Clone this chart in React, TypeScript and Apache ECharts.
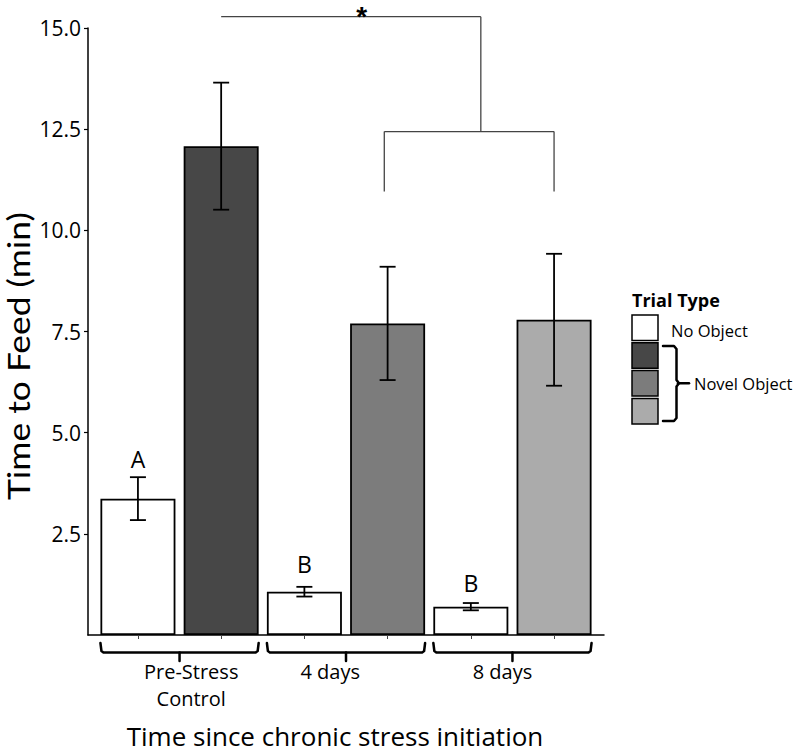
import { useEffect, useRef } from 'react';
import * as echarts from 'echarts';

// bars, left to right (x = bar slot on the axis)
const barX = [1, 2, 3, 4, 5, 6];
const barMeans = [3.37, 12.08, 1.07, 7.7, 0.7, 7.79];
const barErrors = [0.53, 1.57, 0.12, 1.4, 0.09, 1.63];
const barColors = ['#ffffff', '#474747', '#ffffff', '#7c7c7c', '#ffffff', '#ababab'];

const yTicks = [2.5, 5, 7.5, 10, 12.5, 15];

// x groups
const groupNames = ['Pre-Stress\nControl', '4 days', '8 days'];
const groupBars = [[1, 2], [3, 4], [5, 6]];
const groupLabelX = [1.64, 3.31, 5.38];

// post-hoc letters over the no-object bars
const letters = ['A', 'B', 'B'];
const letterX = [1, 3, 5];
const letterY = [4.17, 1.58, 1.11];

// significance bracket
const sigLeftX = 2;
const sigPairX = [3.96, 6];
const sigJoinX = 5.12;
const sigStarX = 3.69;
const sigTopY = 15.28;
const sigPairY = 12.44;
const sigDropY = 10.96;

const legendTitle = 'Trial Type';
const legendColors = ['#ffffff', '#474747', '#7c7c7c', '#ababab'];
const legendLabels = ['No Object', 'Novel Object'];

const xTitle = 'Time since chronic stress initiation';
const yTitle = 'Time to Feed (min)';

const FONT = 'Open Sans';

export default function App() {
  const chartRef = useRef<HTMLDivElement>(null);

  useEffect(() => {
    if (!chartRef.current) return;
    document.body.style.margin = '0';

    const chart = echarts.init(chartRef.current, null, { renderer: 'svg' });

    const option: any = {
      animation: false,
      textStyle: { fontFamily: FONT, color: '#000' },
      grid: { left: 88, right: 193, top: 28, bottom: 118 },
      xAxis: {
        type: 'value',
        min: 0.4,
        max: 6.6,
        axisLine: { show: true, lineStyle: { color: '#000', width: 1.5 } },
        axisTick: { show: true, length: 4, customValues: barX, lineStyle: { color: '#444', width: 1 } },
        axisLabel: { show: false },
        splitLine: { show: false },
      },
      yAxis: {
        type: 'value',
        min: 0,
        max: 15,
        interval: 2.5,
        axisLine: { show: true, lineStyle: { color: '#000', width: 1.5 } },
        axisTick: { show: true, length: 4, customValues: yTicks, lineStyle: { color: '#000', width: 1.2 } },
        axisLabel: {
          customValues: yTicks,
          formatter: (v: number) => v.toFixed(1),
          fontSize: 21,
          color: '#000',
          fontFamily: FONT,
          margin: 7,
        },
        splitLine: { show: false },
      },
      series: [
        {
          type: 'bar',
          barWidth: 75,
          data: barX.map((x, i) => ({ value: [x, barMeans[i]], itemStyle: { color: barColors[i] } })),
          itemStyle: { borderColor: '#000', borderWidth: 1.8 },
          z: 2,
        },
        {
          type: 'custom',
          data: barX.map((x, i) => [x, barMeans[i], barErrors[i]]),
          encode: { x: 0, y: 1 },
          z: 3,
          renderItem: (_params: any, api: any) => {
            const x = api.value(0);
            const m = api.value(1);
            const e = api.value(2);
            const top = api.coord([x, m + e]);
            const bot = api.coord([x, m - e]);
            const style = { stroke: '#000', lineWidth: 1.8 };
            return {
              type: 'group',
              children: [
                { type: 'line', shape: { x1: top[0], y1: top[1], x2: bot[0], y2: bot[1] }, style },
                { type: 'line', shape: { x1: top[0] - 8, y1: top[1], x2: top[0] + 8, y2: top[1] }, style },
                { type: 'line', shape: { x1: bot[0] - 8, y1: bot[1], x2: bot[0] + 8, y2: bot[1] }, style },
              ],
            };
          },
        },
      ],
    };

    chart.setOption(option);

    const px = (x: number, y: number) => chart.convertToPixel({ gridIndex: 0 }, [x, y]) as number[];
    const axisY = px(1, 0)[1];
    const halfBar = 37.5;
    const graphic: any[] = [];

    // letters
    letters.forEach((t, i) => {
      const p = px(letterX[i], letterY[i]);
      graphic.push({
        type: 'text',
        x: p[0],
        y: p[1] + 4,
        style: { text: t, fontSize: 23, fontFamily: FONT, fill: '#000', align: 'center', verticalAlign: 'bottom' },
      });
    });

    // significance bracket
    const sigStyle = { stroke: '#444', lineWidth: 1.3 };
    const a = px(sigLeftX, sigTopY);
    const j = px(sigJoinX, sigTopY);
    const jp = px(sigJoinX, sigPairY);
    const l = px(sigPairX[0], sigPairY);
    const r = px(sigPairX[1], sigPairY);
    const ld = px(sigPairX[0], sigDropY);
    const rd = px(sigPairX[1], sigDropY);
    graphic.push(
      { type: 'line', shape: { x1: a[0], y1: a[1], x2: j[0], y2: j[1] }, style: sigStyle },
      { type: 'line', shape: { x1: j[0], y1: j[1], x2: jp[0], y2: jp[1] }, style: sigStyle },
      { type: 'line', shape: { x1: l[0], y1: l[1], x2: r[0], y2: r[1] }, style: sigStyle },
      { type: 'line', shape: { x1: l[0], y1: l[1], x2: ld[0], y2: ld[1] }, style: sigStyle },
      { type: 'line', shape: { x1: r[0], y1: r[1], x2: rd[0], y2: rd[1] }, style: sigStyle },
    );
    const star = px(sigStarX, sigTopY);
    graphic.push({
      type: 'text',
      x: star[0],
      y: 0.5,
      style: {
        text: '*',
        fontSize: 28,
        lineHeight: 32,
        fontWeight: 'bold',
        fontFamily: 'Liberation Sans',
        fill: '#000',
        align: 'center',
        verticalAlign: 'top',
      },
    });

    // group braces and labels under the axis
    const braceStyle = { stroke: '#000', lineWidth: 2.5, fill: 'none', lineJoin: 'round', lineCap: 'round' };
    groupBars.forEach((g, i) => {
      const xl = px(g[0], 0)[0] - halfBar;
      const xr = px(g[1], 0)[0] + halfBar;
      const xm = (xl + xr) / 2;
      graphic.push(
        {
          type: 'polyline',
          shape: { points: [[xl, axisY + 8], [xl + 1, axisY + 16], [xl + 3, axisY + 17.5], [xr - 3, axisY + 17.5], [xr - 1, axisY + 16], [xr, axisY + 8]] },
          style: braceStyle,
        },
        { type: 'line', shape: { x1: xm, y1: axisY + 17.5, x2: xm, y2: axisY + 26 }, style: braceStyle },
        {
          type: 'text',
          x: px(groupLabelX[i], 0)[0],
          y: axisY + 23,
          style: {
            text: groupNames[i],
            fontSize: 20,
            lineHeight: 27,
            fontFamily: FONT,
            fill: '#000',
            align: 'center',
            verticalAlign: 'top',
          },
        },
      );
    });

    // axis titles
    graphic.push(
      {
        type: 'text',
        x: 335,
        y: 735.5,
        style: { text: xTitle, fontSize: 26, fontFamily: FONT, fill: '#000', align: 'center', verticalAlign: 'middle' },
      },
      {
        type: 'text',
        x: 0.5,
        y: 356,
        rotation: Math.PI / 2,
        scaleX: 1.18,
        style: { text: yTitle, fontSize: 30, lineHeight: 36, fontFamily: 'Lato', fill: '#000', align: 'center', verticalAlign: 'top' },
      },
    );

    // legend
    graphic.push({
      type: 'text',
      x: 632,
      y: 300,
      style: { text: legendTitle, fontSize: 18, fontWeight: 'bold', fontFamily: FONT, fill: '#000', align: 'left', verticalAlign: 'middle' },
    });
    legendColors.forEach((c, i) => {
      graphic.push({
        type: 'rect',
        shape: { x: 632, y: 315 + i * 27.8, width: 26, height: 25.5 },
        style: { fill: c, stroke: '#000', lineWidth: 1.5 },
      });
    });
    graphic.push(
      {
        type: 'text',
        x: 671,
        y: 330.5,
        style: { text: legendLabels[0], fontSize: 16.5, fontFamily: FONT, fill: '#000', align: 'left', verticalAlign: 'middle' },
      },
      {
        type: 'polyline',
        shape: { points: [[663, 346], [674, 346], [676.5, 349], [676.5, 380], [679, 383.3], [676.5, 386.5], [676.5, 418], [674, 421], [663, 421]] },
        style: braceStyle,
      },
      { type: 'line', shape: { x1: 678, y1: 383.3, x2: 689, y2: 383.3 }, style: braceStyle },
      {
        type: 'text',
        x: 694,
        y: 383.5,
        style: { text: legendLabels[1], fontSize: 16.5, fontFamily: FONT, fill: '#000', align: 'left', verticalAlign: 'middle' },
      },
    );

    chart.setOption({ graphic });

    return () => {
      chart.dispose();
    };
  }, []);

  return <div ref={chartRef} style={{ width: 797, height: 753 }} />;
}
